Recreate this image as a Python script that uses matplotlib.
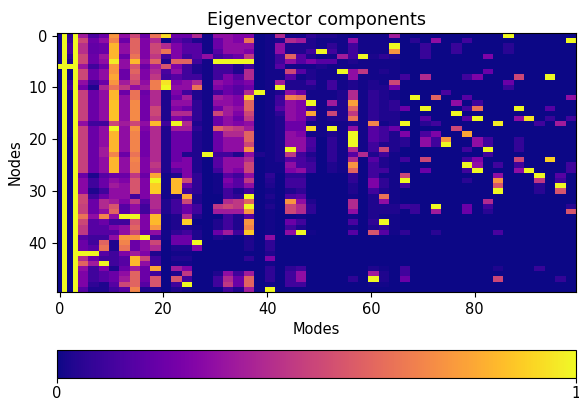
import numpy as np
import matplotlib
matplotlib.use('Agg')
import matplotlib.pyplot as plt

n_nodes = 50
n_modes = 100
floor = 0  ##values are in percent, anything not listed stays at this

##dense columns, read node by node (10 per line), most modes come in pairs
m00 = [1, 1, 1, 1, 1, 1, 100]
m01 = [100] * 50
m02 = [6, 8, 12, 12, 6, 3, 100, 1, 1, 8,
       10, 1, 1, 1, 1, 1, 1, 1, 1, 1]
m04 = [35, 50, 42, 42, 50, 50, 33, 50, 50, 30,
       22, 48, 48, 48, 48, 48, 48, 30, 48, 48,
       48, 48, 48, 48, 48, 48, 48, 20, 28, 28,
       28, 50, 50, 48, 48, 65, 50, 45, 45, 15,
       20, 20, 100, 40, 60, 30, 25, 25, 25, 15]
m06 = [12, 20, 18, 18, 20, 20, 10, 20, 20, 10,
       3, 20, 20, 20, 20, 20, 20, 10, 20, 20,
       20, 20, 20, 20, 20, 20, 20, 3, 10, 10,
       3, 10, 20, 20, 20, 30, 15, 15, 15, 10,
       10, 15, 100, 20, 35, 10, 10, 10, 6, 3]
m08 = [20, 30, 20, 20, 33, 30, 20, 30, 30, 20,
       38, 30, 30, 30, 30, 30, 30, 10, 30, 30,
       30, 30, 35, 35, 30, 30, 30, 15, 20, 20,
       10, 20, 40, 40, 30, 70, 20, 15, 15, 10,
       60, 65, 15, 10, 100, 25, 15, 15, 3, 3]
m10 = [75, 70, 84, 84, 84, 97, 75, 75, 80, 75,
       65, 84, 84, 87, 87, 87, 87, 50, 100, 84,
       84, 84, 84, 70, 84, 84, 84, 20, 30, 35,
       30, 30, 35, 55, 60, 30, 10, 25, 15, 30,
       3, 3, 10, 10, 10, 3, 20, 20, 15, 10]
m12 = [30, 20, 30, 30, 20, 30, 30, 20, 20, 35,
       45, 20, 30, 30, 30, 30, 30, 35, 30, 30,
       30, 30, 30, 20, 30, 30, 30, 20, 25, 30,
       30, 30, 25, 15, 15, 100, 10, 30, 30, 75,
       70, 65, 25, 15, 15, 20, 30, 35, 50, 15]
m14 = [50, 60, 60, 60, 65, 85, 55, 60, 55, 50,
       30, 65, 65, 72, 72, 72, 72, 50, 74, 70,
       70, 70, 70, 65, 70, 68, 68, 45, 55, 55,
       55, 10, 45, 30, 30, 100, 55, 60, 50, 75,
       20, 20, 35, 85, 85, 35, 60, 60, 60, 70]
m16 = [20, 25, 25, 25, 25, 30, 20, 25, 25, 30,
       35, 20, 22, 22, 22, 22, 22, 30, 25, 22,
       22, 22, 22, 22, 25, 25, 25, 20, 25, 25,
       25, 25, 15, 10, 10, 25, 25, 25, 20, 100,
       30, 30, 25, 50, 30, 20, 20, 20, 15, 3]
m18 = [65, 40, 50, 50, 45, 60, 35, 40, 45, 68,
       68, 40, 40, 40, 50, 50, 45, 85, 40, 40,
       40, 40, 40, 40, 40, 45, 40, 80, 100, 90,
       90, 40, 40, 40, 35, 85, 85, 75, 30, 10,
       50, 40, 3, 10, 10, 80, 10, 55, 55, 3]
m20 = [93, 0, 40, 65, 10, 3, 55, 12, 10, 95,
       100, 3, 3, 3, 3, 3, 3, 10, 3, 3,
       3, 3, 3, 3, 3, 3, 3, 1, 1, 1,
       1, 1, 3, 3, 3, 1, 1, 1, 1, 1]
m22 = [20, 15, 25, 25, 25, 60, 25, 30, 15, 25,
       30, 25, 20, 30, 25, 40, 25, 100, 35, 20,
       20, 20, 20, 20, 20, 25, 15, 3, 85, 85,
       85, 3, 10, 10, 10, 3, 3, 3, 6, 20,
       20, 3, 1, 3, 1, 35, 3, 55, 10, 3]
m24 = [20, 10, 15, 15, 10, 60, 10, 10, 10, 30,
       30, 10, 35, 30, 20, 40, 20, 40, 35, 20,
       20, 20, 20, 3, 25, 25, 25, 25, 50, 20,
       10, 80, 50, 20, 20, 40, 90, 3, 10, 20,
       20, 3, 1, 3, 1, 25, 45, 10, 100, 1]
m26 = [40, 3, 15, 15, 15, 10, 3, 3, 10, 40,
       65, 3, 3, 6, 6, 6, 6, 3, 6, 3,
       3, 3, 3, 3, 3, 3, 3, 6, 6, 6,
       6, 3, 3, 10, 10, 3, 0, 1, 3, 3,
       100, 25]
m28 = [1, 1, 1, 1, 30, 1, 1, 1, 1, 1,
       1, 1, 1, 1, 1, 1, 1, 1, 1, 1,
       1, 1, 1, 100]
m30 = [30, 20, 20, 15, 10, 100, 10, 10, 10, 30,
       25, 10, 35, 30, 20, 50, 20, 20, 60, 20,
       20, 20, 20, 10, 15, 15, 10, 1, 1, 1,
       1, 0, 0, 45, 35, 0, 3, 3, 20, 3,
       0, 0, 0, 0, 0, 0, 3, 10, 10, 0]
m32 = [30, 30, 30, 30, 15, 100, 10, 10, 25, 25,
       20, 20, 30, 30, 35, 35, 30, 30, 50, 40,
       30, 30, 30, 10, 30, 30, 30, 15, 25, 20,
       10, 10, 40, 50, 35, 10, 10, 10, 35, 1,
       0, 0, 0, 0, 0, 0, 30, 40, 45, 10]
m34 = [25, 25, 30, 30, 20, 100, 3, 3, 15, 20,
       15, 15, 25, 25, 30, 25, 20, 25, 45, 40,
       30, 30, 30, 3, 30, 30, 25, 10, 15, 15,
       3, 6, 45, 45, 35, 3, 3, 3, 10, 0,
       0, 0, 0, 0, 0, 0, 10, 20, 20, 3]
m36 = [25, 65, 30, 25, 45, 100, 10, 40, 40, 25,
       20, 40, 90, 60, 60, 50, 45, 30, 35, 60,
       60, 50, 75, 30, 40, 50, 50, 30, 45, 30,
       10, 100, 60, 100, 75, 15, 75, 70, 88, 3,
       3, 3, 0, 6, 0, 0, 35, 60, 60, 35]
m38 = [0, 0, 0, 0, 0, 0, 0, 0, 0, 0,
       0, 100, 0, 0, 0, 0, 0, 0, 0, 0,
       0, 0, 0, 3]
m40 = [1, 1, 1, 1, 1, 1, 1, 1, 1, 1,
       1, 1, 1, 1, 1, 1, 1, 1, 1, 1,
       1, 1, 1, 1, 1, 1, 1, 6, 4, 3,
       1, 3, 1, 3, 1, 1, 1, 1, 1, 30,
       6, 6, 3, 25, 1, 6, 6, 6, 1, 100]
m42 = [40, 3, 30, 30, 10, 10, 15, 1, 1, 35,
       100, 3, 10, 10, 15, 6, 3, 3, 3, 3,
       3, 3, 3, 3, 3, 1, 1]
m44 = [1, 40, 3, 3, 60, 30, 1, 50, 15, 3,
       3, 30, 70, 30, 30, 30, 30, 20, 20, 30,
       30, 30, 100, 45, 15, 30, 25, 6, 10, 10,
       3, 12, 75, 50, 50, 0, 20, 10, 30, 0,
       0, 0, 0, 0, 0, 6, 10, 10, 10, 0]
m46 = [1, 35, 3, 3, 15, 15, 1, 15, 1, 3,
       3, 20, 65, 25, 25, 25, 25, 20, 20, 25,
       30, 30, 30, 10, 12, 12, 30, 6, 10, 10,
       6, 15, 30, 40, 40, 1, 10, 3, 100, 0,
       0, 0, 0, 0, 0, 10, 30, 30, 10, 0]
m48 = [6, 3, 3, 10, 3, 25, 1, 3, 3, 10,
       3, 1, 1, 100, 10, 80, 10, 1, 93, 1,
       12, 12, 10, 3, 6, 10, 10, 0, 0, 0,
       0, 0, 3, 6, 6, 0, 0, 0, 1]
m50 = [3, 1, 1, 100, 0, 15, 3, 1, 1, 1,
       1, 1, 1, 1, 1, 1, 1, 1, 1, 1]
m52 = [3, 1, 6, 10, 1, 15, 1, 1, 1, 10,
       10, 1, 1, 35, 3, 50, 3, 1, 100, 3,
       6, 6, 6, 6, 6, 3, 3]
m54 = [1, 1, 1, 1, 35, 1, 1, 100, 1, 1,
       1, 3, 3, 3, 3, 3, 3, 1, 1, 1,
       1, 1, 1, 1, 1, 1, 1]
m56 = [0, 30, 10, 10, 10, 3, 1, 30, 30, 3,
       3, 40, 40, 78, 60, 45, 65, 3, 30, 100,
       100, 100, 40, 15, 40, 75, 60, 6, 6, 3,
       3, 1, 40, 40, 30, 1, 12, 1, 15, 0,
       0, 0, 0, 0, 0, 0, 0, 6, 0, 0]
m58 = [1, 1, 1, 1, 100, 1, 1, 45, 1, 1,
       1, 1, 1, 1, 1, 1, 1, 1, 1, 1,
       1, 1, 1, 40]
m60 = [1, 1, 1, 1, 2, 1, 1, 1, 1, 3,
       3, 6, 6, 6, 6, 6, 6, 70, 15, 15,
       15, 10, 10, 3, 15, 10, 10, 10, 25, 25,
       10, 3, 3, 3, 3, 3, 6, 3, 55, 0,
       0, 0, 0, 0, 0, 3, 35, 100, 1, 0]
m62 = [1, 1, 1, 1, 6, 1, 1, 3, 1, 1,
       3, 3, 3, 3, 3, 3, 3, 1, 10, 10,
       10, 3, 50, 10, 3, 3, 10, 1, 6, 6,
       3, 65, 30, 3, 3, 1, 100, 6, 15, 0,
       0, 0, 0, 0, 0, 1, 3, 3, 1, 0]
m64 = [35, 1, 100, 75, 3, 1, 1, 1, 1, 50,
       20, 1, 1, 6, 6, 3, 3, 3, 20, 3,
       3, 3, 3, 1, 1, 1, 1, 1, 1, 1,
       1, 1, 1, 3, 3, 1, 1, 1, 1]

##single columns first, then the pairs
single_cols = {0: m00, 1: m01, 2: m02, 3: m01}
pair_cols = {4: m04, 6: m06, 8: m08, 10: m10, 12: m12, 14: m14, 16: m16,
             18: m18, 20: m20, 22: m22, 24: m24, 26: m26, 28: m28, 30: m30,
             32: m32, 34: m34, 36: m36, 38: m38, 40: m40, 42: m42, 44: m44,
             46: m46, 48: m48, 50: m50, 52: m52, 54: m54, 56: m56, 58: m58,
             60: m60, 62: m62, 64: m64}

##high modes are almost empty, so only the lit cells (each is two modes wide)
high_modes = [86, 72, 98, 68, 78, 70, 70, 70, 76, 76, 82, 86, 86, 82, 66, 70,
              80, 78, 88, 94, 86, 86, 74, 68, 72, 78, 98, 76, 80, 70, 66, 80,
              88, 94, 78, 76, 70, 80, 88, 90, 78, 94, 98, 66, 84, 96, 92, 72,
              70, 76, 78, 66, 70, 72, 74, 74, 70, 70, 72, 72, 80, 80, 82, 82,
              66, 66, 88, 88, 88, 82, 78, 82, 70, 66, 78, 80, 88, 94, 78, 80,
              88, 84, 80, 78, 70, 88, 90, 98, 98, 92, 66, 84, 96, 66, 84, 92,
              96, 78, 66, 84, 96, 92, 84, 96, 92, 82, 72, 72, 78, 78, 66, 68,
              68, 82, 82, 98, 98, 72, 66, 84, 66, 66, 84, 92, 66, 84, 96]
high_nodes = [0, 1, 1, 1, 1, 2, 3, 4, 2, 3, 4, 2, 3, 7, 8, 8,
              8, 8, 8, 8, 9, 10, 11, 12, 12, 12, 12, 13, 13, 14, 14, 14,
              14, 14, 14, 15, 16, 16, 16, 16, 16, 16, 16, 17, 17, 17, 17, 17,
              17, 18, 19, 19, 19, 19, 20, 21, 20, 21, 20, 21, 20, 21, 20, 21,
              20, 21, 20, 21, 22, 22, 22, 23, 24, 24, 24, 24, 24, 24, 25, 25,
              25, 25, 26, 26, 26, 26, 26, 25, 26, 27, 27, 27, 27, 28, 28, 28,
              28, 28, 29, 29, 29, 29, 30, 30, 30, 32, 33, 34, 33, 34, 33, 33,
              34, 33, 34, 34, 33, 38, 38, 38, 45, 46, 45, 45, 47, 47, 47]
high_values = [100, 30, 100, 5, 10, 8, 8, 8, 8, 8, 25, 5, 5, 20, 10, 40,
               25, 10, 50, 100, 20, 8, 12, 100, 60, 15, 30, 30, 10, 100, 20, 65,
               100, 15, 10, 100, 15, 100, 30, 95, 15, 8, 10, 100, 97, 35, 10, 10,
               5, 50, 80, 25, 12, 25, 75, 100, 30, 30, 10, 10, 30, 30, 10, 10,
               5, 5, 7, 7, 7, 100, 10, 10, 50, 10, 10, 25, 50, 90, 100, 30,
               10, 10, 100, 10, 20, 30, 100, 10, 10, 100, 50, 30, 15, 100, 75, 45,
               10, 5, 10, 55, 100, 5, 100, 55, 5, 40, 100, 35, 20, 20, 10, 8,
               8, 10, 5, 55, 5, 5, 6, 12, 10, 10, 3, 8, 20, 50, 7]

components = np.full((n_nodes, n_modes), floor, dtype=float)
for col, vals in single_cols.items():
    components[:len(vals), col] = vals
for col, vals in pair_cols.items():
    components[:len(vals), col] = vals
    components[:len(vals), col + 1] = vals
for col, node, val in zip(high_modes, high_nodes, high_values):
    components[node, col:col + 2] = val
components = components / 100.0

plt.rcParams['font.size'] = 10.5

fig = plt.figure(figsize=(5.79, 4.0), dpi=100)
ax = fig.add_axes([57 / 579, 1 - 292 / 400, 519 / 579, 259 / 400])
im = ax.imshow(components, aspect='auto', cmap='plasma', vmin=0, vmax=1,
               interpolation='nearest')
ax.set_xticks([0, 20, 40, 60, 80])
ax.set_yticks([0, 10, 20, 30, 40])
ax.set_title("Eigenvector components", fontsize=12.6)
ax.set_xlabel("Modes")
ax.set_ylabel("Nodes")

cax = fig.add_axes([57 / 579, 1 - 378 / 400, 519 / 579, 28 / 400])
cbar = fig.colorbar(im, cax=cax, orientation='horizontal', ticks=[0, 1])
cbar.ax.set_xticklabels(['0', '1'])
cbar.ax.tick_params(pad=2.5)

plt.savefig("out.png", dpi=100)
